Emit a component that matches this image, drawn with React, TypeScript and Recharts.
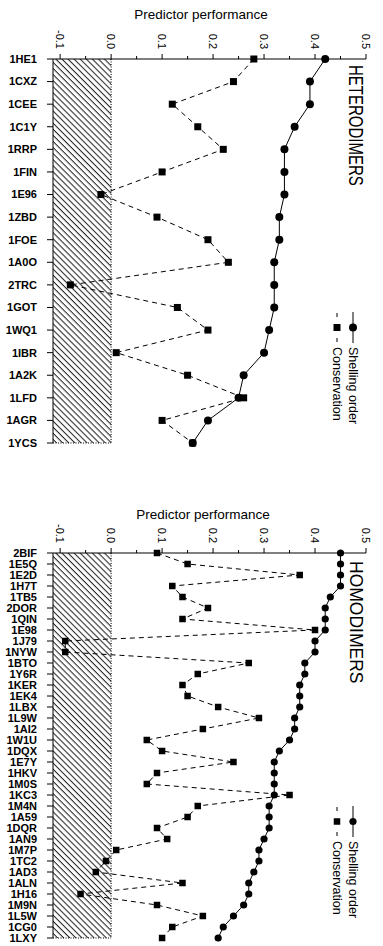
import { ComposedChart, Line, XAxis, YAxis, ReferenceArea, Legend } from "recharts";

const FONT = '"Liberation Sans", Arial, Helvetica, sans-serif';

// heterodimer complexes, top panel
const heteroNames = [
  "1HE1", "1CXZ", "1CEE", "1C1Y", "1RRP", "1FIN", "1E96", "1ZBD", "1FOE",
  "1A0O", "2TRC", "1GOT", "1WQ1", "1IBR", "1A2K", "1LFD", "1AGR", "1YCS",
];
const heteroShelling = [
  0.42, 0.39, 0.39, 0.36, 0.34, 0.34, 0.34, 0.33, 0.33,
  0.32, 0.32, 0.32, 0.31, 0.3, 0.26, 0.25, 0.19, 0.16,
];
const heteroConservation = [
  0.28, 0.24, 0.12, 0.17, 0.22, 0.1, -0.02, 0.09, 0.19,
  0.23, -0.08, 0.13, 0.19, 0.01, 0.15, 0.26, 0.1, 0.16,
];

// homodimer complexes, bottom panel
const homoNames = [
  "2BIF", "1E5Q", "1E2D", "1H7T", "1TB5", "2DOR", "1QIN", "1E98", "1J79",
  "1NYW", "1BTO", "1Y6R", "1KER", "1EK4", "1LBX", "1L9W", "1AI2", "1W1U",
  "1DQX", "1E7Y", "1HKV", "1M0S", "1KC3", "1M4N", "1A59", "1DQR", "1AN9",
  "1M7P", "1TC2", "1AD3", "1ALN", "1H16", "1M9N", "1L5W", "1CG0", "1LXY",
];
const homoShelling = [
  0.45, 0.45, 0.45, 0.45, 0.43, 0.42, 0.42, 0.42, 0.4,
  0.4, 0.38, 0.38, 0.37, 0.37, 0.37, 0.36, 0.36, 0.35,
  0.33, 0.32, 0.32, 0.32, 0.32, 0.31, 0.31, 0.31, 0.3,
  0.29, 0.29, 0.28, 0.27, 0.27, 0.26, 0.24, 0.22, 0.21,
];
const homoConservation = [
  0.09, 0.15, 0.37, 0.12, 0.14, 0.19, 0.14, 0.4, -0.09,
  -0.09, 0.27, 0.17, 0.14, 0.15, 0.21, 0.29, 0.18, 0.07,
  0.1, 0.24, 0.09, 0.07, 0.35, 0.17, 0.15, 0.09, 0.11,
  0.01, -0.01, -0.03, 0.14, -0.06, 0.09, 0.18, 0.12, 0.1,
];

const xTicks = [-0.1, -0.05, 0, 0.05, 0.1, 0.15, 0.2, 0.25, 0.3, 0.35, 0.4, 0.45, 0.5];
const X_MIN = -0.114;

function PerfTick(props: any) {
  const { x, y, payload } = props;
  const v = payload.value as number;
  const major = Math.abs(v * 10 - Math.round(v * 10)) < 1e-6;
  return (
    <g>
      <line x1={x} y1={y} x2={x} y2={y - (major ? 5 : 3)} stroke="#000" />
      {major && (
        <text
          transform={`translate(${x},${y - 10}) rotate(90)`}
          textAnchor="end"
          dominantBaseline="central"
          fontSize={11}
          fill="#000"
        >
          {v.toFixed(1)}
        </text>
      )}
    </g>
  );
}

function hatchShape(id: string) {
  return (props: any) => {
    const { x, y, width, height } = props;
    return (
      <g>
        <defs>
          <pattern id={id} patternUnits="userSpaceOnUse" width={4.3} height={4.3} patternTransform="rotate(-45)">
            <line x1={2} y1={0} x2={2} y2={4.3} stroke="#000" strokeWidth={0.9} />
          </pattern>
        </defs>
        <rect x={x} y={y} width={width} height={height} fill={`url(#${id})`} />
        <line x1={x + width} y1={y} x2={x + width} y2={y + height} stroke="#000" strokeDasharray="1 1.5" />
        <line x1={x} y1={y + height} x2={x + width} y2={y + height} stroke="#000" strokeDasharray="1 1.5" />
      </g>
    );
  };
}

function RotatedLegend({ payload, r, sq }: any) {
  return (
    <svg width={44} height={130} style={{ overflow: "visible", fontFamily: FONT }}>
      {(payload ?? []).map((item: any) => {
        const isShell = item.value === "Shelling order";
        const cx = isShell ? 27 : 11;
        return (
          <g key={item.value}>
            {isShell ? (
              <>
                <line x1={cx} y1={6} x2={cx} y2={37} stroke="#000" />
                <circle cx={cx} cy={21.5} r={r} fill="#000" />
              </>
            ) : (
              <>
                <line x1={cx} y1={7} x2={cx} y2={11} stroke="#000" />
                <rect x={cx - sq / 2} y={21.5 - sq / 2} width={sq} height={sq} fill="#000" />
                <line x1={cx} y1={32} x2={cx} y2={36} stroke="#000" />
              </>
            )}
            <text
              transform={`translate(${cx},41) rotate(90)`}
              textAnchor="start"
              dominantBaseline="central"
              fontSize={12.5}
              fill="#000"
            >
              {item.value}
            </text>
          </g>
        );
      })}
    </svg>
  );
}

interface PanelProps {
  id: string;
  top: number;
  height: number;
  bottom: number;
  names: string[];
  shelling: number[];
  conservation: number[];
  r: number;
  sq: number;
}

function Panel({ id, top, height, bottom, names, shelling, conservation, r, sq }: PanelProps) {
  const data = names.map((name, i) => ({
    name,
    shelling: shelling[i],
    conservation: conservation[i],
  }));
  return (
    <div style={{ position: "absolute", left: 0, top }}>
      <ComposedChart
        width={383}
        height={height}
        data={data}
        layout="vertical"
        margin={{ top: 0, right: 17, bottom, left: 0 }}
      >
        <XAxis
          type="number"
          orientation="top"
          domain={[X_MIN, 0.5]}
          ticks={xTicks}
          interval={0}
          height={59}
          tickSize={0}
          tickMargin={0}
          tickLine={false}
          allowDataOverflow
          axisLine={{ stroke: "#000" }}
          tick={<PerfTick />}
        />
        <YAxis
          type="category"
          dataKey="name"
          width={53}
          interval={0}
          tickSize={6}
          tickMargin={10}
          axisLine={{ stroke: "#000" }}
          tickLine={{ stroke: "#000" }}
          tick={{ fill: "#000", fontSize: 11, fontWeight: 700 }}
        />
        <ReferenceArea x1={X_MIN} x2={0} shape={hatchShape(`hatch-${id}`)} />
        <Line
          dataKey="conservation"
          name="Conservation"
          stroke="#000"
          strokeWidth={1}
          strokeDasharray="5 4"
          isAnimationActive={false}
          dot={(p: any) => (
            <rect key={`s-${p.index}`} x={p.cx - sq / 2} y={p.cy - sq / 2} width={sq} height={sq} fill="#000" />
          )}
        />
        <Line
          dataKey="shelling"
          name="Shelling order"
          stroke="#000"
          strokeWidth={1}
          isAnimationActive={false}
          dot={(p: any) => <circle key={`c-${p.index}`} cx={p.cx} cy={p.cy} r={r} fill="#000" />}
        />
        <Legend
          layout="horizontal"
          verticalAlign="middle"
          align="center"
          wrapperStyle={{ left: 326, top: 306, width: 44, height: 130 }}
          content={(props: any) => <RotatedLegend payload={props.payload} r={r} sq={sq} />}
        />
      </ComposedChart>
    </div>
  );
}

export default function App() {
  return (
    <div style={{ position: "absolute", left: 0, top: 0, width: 383, height: 946, background: "#fff", fontFamily: FONT }}>
      <Panel
        id="hetero"
        top={0}
        height={470}
        bottom={27}
        names={heteroNames}
        shelling={heteroShelling}
        conservation={heteroConservation}
        r={4}
        sq={7}
      />
      <Panel
        id="homo"
        top={494}
        height={452}
        bottom={8}
        names={homoNames}
        shelling={homoShelling}
        conservation={homoConservation}
        r={3.6}
        sq={6.5}
      />
      <svg width={383} height={946} style={{ position: "absolute", left: 0, top: 0, pointerEvents: "none" }}>
        <text x={201} y={19} textAnchor="middle" fontSize={13.5} fill="#000">Predictor performance</text>
        <text x={203} y={519} textAnchor="middle" fontSize={13.5} fill="#000">Predictor performance</text>
        <text
          transform="translate(356,65) rotate(90) scale(1,1.3)"
          textAnchor="start"
          dominantBaseline="central"
          fontSize={15}
          fill="#000"
        >
          HETERODIMERS
        </text>
        <text
          transform="translate(356.5,561) rotate(90) scale(1,1.05)"
          textAnchor="start"
          dominantBaseline="central"
          fontSize={17.5}
          fill="#000"
        >
          HOMODIMERS
        </text>
      </svg>
    </div>
  );
}
